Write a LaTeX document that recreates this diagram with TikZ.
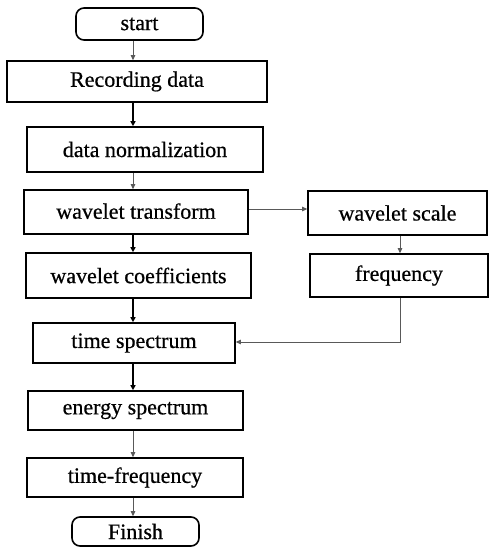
\documentclass[tikz,border=0pt]{standalone}
\usepackage{fontspec}
\setmainfont{Liberation Serif}
\newfontfamily\tnr[FakeBold=0.6]{Liberation Serif}
\usetikzlibrary{arrows.meta}
\begin{document}
\begin{tikzpicture}[x=1pt,y=-1pt,
 box/.style={draw, line width=1.6pt, rectangle, inner sep=0pt, font=\tnr\fontsize{22}{25}\selectfont, anchor=center},
 term/.style={box, rounded corners=8pt},
 thinarrow/.style={-{Triangle[length=5pt,width=4.5pt]}, line width=0.7pt, draw=black!65},
 thickarrow/.style={-{Triangle[length=5pt,width=5pt]}, line width=1.4pt},
]
\useasboundingbox (0,0) rectangle (490,548);
\fill[white] (0,0) rectangle (490,548);
\coordinate (spine) at (133,0);
\coordinate (rspine) at (400,0);
\node[term, minimum width=127, minimum height=32] (start) at (139.5,24) {start};
\node[box, minimum width=260, minimum height=41] (rec) at (137,81.5) {Recording data};
\node[box, minimum width=236, minimum height=45] (norm) at (145,149.5) {data normalization};
\node[box, minimum width=224, minimum height=44] (wt) at (136,212) {\raisebox{2pt}{wavelet transform}\hspace{8pt}};
\node[box, minimum width=179, minimum height=44] (ws) at (397.5,213) {wavelet scale\hspace{10pt}};
\node[box, minimum width=225, minimum height=45] (wc) at (138.5,275.5) {wavelet coefficients};
\node[box, minimum width=178, minimum height=43] (freq) at (399,275.5) {\raisebox{2pt}{frequency}\hspace{10pt}};
\node[box, minimum width=202, minimum height=40] (ts) at (134,343) {\raisebox{4pt}{time spectrum}\hspace{36pt}};
\node[box, minimum width=215, minimum height=39] (es) at (135.5,410.5) {energy spectrum};
\node[box, minimum width=216, minimum height=39] (tf) at (135,477.5) {time-frequency};
\node[term, minimum width=127, minimum height=29] (fin) at (135.5,531.5) {Finish};

\draw[thinarrow] (start.south -| spine) -- (rec.north -| spine);
\draw[thickarrow] (rec.south -| spine) -- (norm.north -| spine);
\draw[thinarrow] (norm.south -| spine) -- (wt.north -| spine);
\draw[thickarrow] (wt.south -| spine) -- (wc.north -| spine);
\draw[thickarrow] (wc.south -| spine) -- (ts.north -| spine);
\draw[thickarrow] (ts.south -| spine) -- (es.north -| spine);
\draw[thinarrow] (es.south -| spine) -- (tf.north -| spine);
\draw[thinarrow] (tf.south -| spine) -- (fin.north -| spine);
\draw[thinarrow] ([yshift=3pt]wt.east) -- ([yshift=3pt]wt.east -| ws.west);
\draw[thinarrow] (ws.south -| rspine) -- (freq.north -| rspine);
\draw[thinarrow] (freq.south -| rspine) |- ([yshift=1pt]ts.east);
\end{tikzpicture}
\end{document}
